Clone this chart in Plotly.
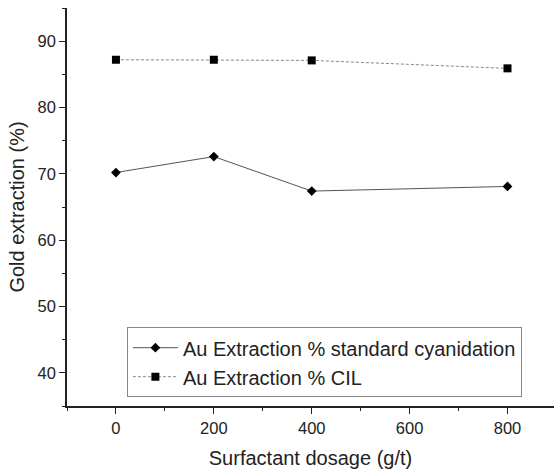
import plotly.graph_objects as go

dosage = [0, 200, 400, 800]
std_cyanidation = [70.2, 72.6, 67.4, 68.1]
cil = [87.2, 87.2, 87.1, 85.9]

x_ticks = [0, 200, 400, 600, 800]
y_ticks = [40, 50, 60, 70, 80, 90]

FONT = "Liberation Sans, Arial, sans-serif"

fig = go.Figure()
fig.add_trace(go.Scatter(
    x=dosage, y=std_cyanidation, mode="lines+markers",
    name="Au Extraction % standard cyanidation",
    line=dict(color="#555555", width=1),
    marker=dict(symbol="diamond", size=7.5, color="black"),
))
fig.add_trace(go.Scatter(
    x=dosage, y=cil, mode="lines+markers",
    name="Au Extraction % CIL",
    line=dict(color="#888888", width=1, dash="3px,2px"),
    marker=dict(symbol="square", size=8, color="black"),
))

axis_common = dict(
    showline=True, linecolor="#222222", linewidth=1.5,
    ticks="outside", ticklen=6, tickwidth=1.3, tickcolor="#222222",
    showgrid=False, zeroline=False, mirror=False, automargin=False,
    tickfont=dict(family=FONT, size=16.5, color="#222222"),
)

fig.update_xaxes(
    range=[-100, 895], tickvals=x_ticks,
    title=dict(text="Surfactant dosage (g/t)", font=dict(family=FONT, size=20, color="#222222"), standoff=15),
    minor=dict(ticks="outside", ticklen=3, tickwidth=1.2, tickcolor="#222222", dtick=100, tick0=0),
    **axis_common,
)
fig.update_yaxes(
    range=[35, 95], tickvals=y_ticks,
    title=dict(text="Gold extraction (%)", font=dict(family=FONT, size=20, color="#222222"), standoff=8),
    minor=dict(ticks="outside", ticklen=3, tickwidth=1.2, tickcolor="#222222", dtick=5, tick0=35),
    **axis_common,
)

fig.update_layout(
    width=554, height=469,
    margin=dict(l=67, r=0, t=8, b=63),
    plot_bgcolor="white", paper_bgcolor="white",
    showlegend=True,
    legend=dict(
        x=0.123, y=0.198, xanchor="left", yanchor="top",
        bordercolor="#888888", borderwidth=1, bgcolor="white",
        font=dict(family=FONT, size=20, color="#222222"),
        itemwidth=45, tracegroupgap=0,
    ),
)

fig.write_html("out.html", config={"displayModeBar": False},
               post_script="document.body.style.margin='0px';")
